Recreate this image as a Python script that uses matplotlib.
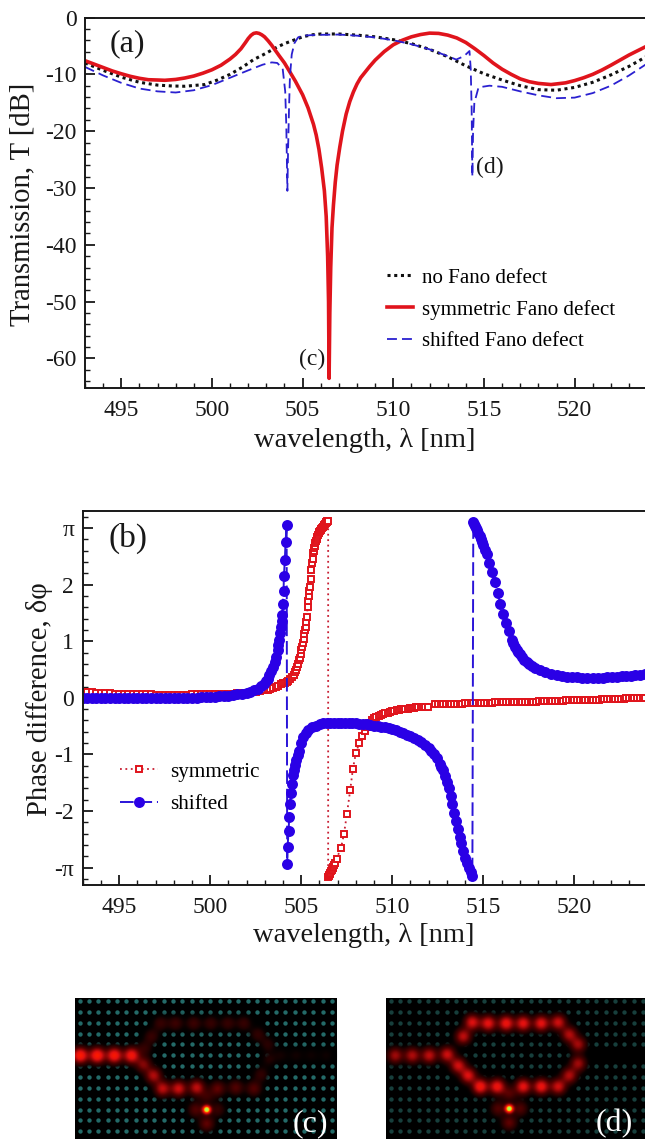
import numpy as np
import matplotlib
matplotlib.use("Agg")
import matplotlib.pyplot as plt
from matplotlib.colors import LinearSegmentedColormap
from matplotlib.ticker import MultipleLocator

plt.rcParams["font.family"] = ["Liberation Serif", "DejaVu Serif"]

W, H = 645., 1144.

##########################
### panel (a) curves   ###
##########################
none_x = [493,494,495,496,497,497.8,498.5,499.6,500.3,501,501.7,502.3,502.8,503.2,503.6,504,504.5,505,505.5,506,507,508,509,510,
          511,512,513,514,515,516,517,518,519,520,521,522,523,524]
none_y = [-8,-9.3,-10.5,-11.4,-11.9,-12.05,-12.1,-11.8,-11,-10,-8.7,-7.4,-6.6,-5.9,-5.2,-4.6,-4,-3.4,-3.05,-2.9,-2.9,-3.1,-3.4,-3.9,
          -4.6,-5.6,-6.9,-8.5,-9.9,-11,-12,-12.7,-12.8,-12.3,-11.4,-10.1,-8.6,-6.8]

sym_x = [493,493.5,494,494.5,495,495.5,496,496.5,497,497.4,498,498.5,499,499.5,500,500.5,501,501.3,501.6,501.85,502,502.15,502.3,
         502.45,502.6,502.75,502.9,503.1,503.3,503.5,503.7,504,504.3,504.6,505,505.3,505.6,505.75,505.9,506.05,506.2,506.3,
         506.38,506.43,506.46,506.5,506.55,506.62,506.7,506.8,506.9,507.05,507.2,507.4,507.6,507.8,508,508.2,508.35,508.7,509,
         509.5,510,510.5,511,511.5,512,512.5,513,513.5,514,514.5,515,515.5,516,516.5,517,517.5,518,518.7,519.5,520,520.5,521,
         521.5,522,522.5,523,523.5,524]
sym_y = [-7.6,-8.2,-8.8,-9.4,-9.9,-10.35,-10.7,-10.95,-11,-11.05,-10.9,-10.65,-10.3,-9.8,-9.2,-8.4,-7.3,-6.5,-5.5,-4.4,-3.7,-3.15,-2.8,
         -2.7,-2.8,-3.05,-3.4,-4.1,-4.9,-5.8,-6.7,-8,-9.6,-11.2,-13.6,-15.9,-18.8,-20.7,-23.2,-26.5,-30.5,-35,
         -42,-50,-63.5,-52,-44,-37,-33,-29,-26,-22.8,-20,-17,-14.8,-13.1,-11.7,-10.6,-10,-8.6,-7.5,
         -6,-4.8,-4,-3.4,-3,-2.75,-2.8,-3.1,-3.6,-4.4,-5.5,-6.7,-8,-9.1,-10,-10.8,-11.3,-11.6,-11.8,-11.5,-11.1,-10.6,-10,
         -9.25,-8.4,-7.5,-6.6,-5.8,-5]

shift_x = [493,494,495,496,497,498,499,500,501,502,502.8,503.3,503.6,503.9,504.04,504.1,504.16,504.2,504.25,504.3,504.4,504.55,
           504.75,505,505.5,506,507,508,509,510,511,512,513,513.47,513.9,514.2,514.27,514.32,514.36,514.4,514.47,514.7,
           515.3,516,517,518,519,520,521,522,523,524]
shift_y = [-8.7,-10.2,-11.5,-12.5,-13,-13.2,-12.8,-11.9,-10.6,-9.3,-8.3,-7.9,-8,-9,-13,-19,-30.5,-23,-16,-10.5,-6.5,-4.5,
           -3.5,-3.2,-3.1,-3.05,-3,-3.2,-3.5,-4,-4.7,-5.6,-6.8,-7.4,-6.8,-5.9,-9,-16,-28,-20,-15,-12.3,
           -12,-12.2,-13,-13.7,-14.2,-14.1,-13.3,-12,-10.2,-8.1]

##########################
### panel (b) markers  ###
##########################
phase_sym_x = [493,493.25,493.5,493.75,494,494.25,494.5,494.75,495,495.25,495.5,495.75,496,496.25,496.5,496.75,497,497.25,
    497.5,497.75,498,498.25,498.5,498.75,499,499.25,499.5,499.75,500,500.25,500.5,500.75,501,501.25,501.5,501.75,502,502.25,
    502.5,502.75,503,503.15,503.3,503.45,503.6,503.75,503.9,504,504.1,504.2,504.3,504.4,504.5,504.58,504.65,504.72,504.78,
    504.84,504.89,504.93,504.97,505.01,505.05,505.1,505.14,505.18,505.21,505.24,505.28,505.31,505.35,505.38,505.41,505.45,
    505.48,505.52,505.56,505.6,505.63,505.66,505.69,505.72,505.75,505.78,505.81,505.85,505.89,505.93,505.97,506,506.04,506.07,
    506.1,506.14,506.17,506.2,506.24,506.27,506.3,506.34,506.37,506.41,506.44,506.48,
    506.48,506.51,506.54,506.57,506.6,506.64,506.68,506.72,506.76,506.8,506.87,506.94,507.18,507.35,507.51,507.69,507.84,
    508,508.19,508.33,508.5,508.62,508.75,508.87,509,509.12,509.25,509.37,509.5,509.62,509.75,509.87,510,510.12,510.24,
    510.36,510.48,510.6,510.72,510.84,510.96,511.08,511.2,511.32,511.44,511.56,511.68,511.8,511.98,
    512.35,512.5,512.65,512.8,512.95,513.1,513.25,513.4,513.55,513.7,513.85,514,514.15,514.3,514.45,514.6,514.75,514.9,
    515.05,515.2,515.35,515.5,515.65,515.8,515.95,516.1,516.25,516.4,516.55,516.7,516.85,517,517.15,517.3,517.45,517.6,
    517.75,517.9,518.05,518.2,518.35,518.5,518.65,518.8,518.95,519.1,519.25,519.4,519.55,519.7,519.85,520,520.15,520.3,
    520.45,520.6,520.75,520.9,521.05,521.2,521.35,521.5,521.65,521.8,521.95,522.1,522.25,522.4,522.55,522.7,522.85,523,
    523.15,523.3,523.45,523.6,523.75,523.88]
phase_sym_y = [.11,.10,.10,.09,.09,.08,.08,.07,.07,.07,.06,.06,.06,.06,.06,.06,.05,.05,
    .05,.05,.05,.05,.05,.05,.06,.06,.06,.06,.06,.06,.06,.07,.07,.07,.08,.08,.09,.10,
    .11,.12,.13,.14,.16,.17,.19,.21,.24,.26,.27,.28,.30,.33,.37,.41,.45,.50,.55,
    .60,.66,.71,.77,.84,.90,.96,1.04,1.12,1.19,1.25,1.34,1.43,1.61,1.71,1.80,1.88,
    1.96,2.1,2.25,2.38,2.46,2.55,2.60,2.65,2.69,2.73,2.77,2.8,2.84,2.88,2.91,2.93,2.95,2.97,
    2.99,3.0,3.01,3.02,3.04,3.05,3.07,3.08,3.1,3.11,3.12,3.13,
    -3.17,-3.15,-3.13,-3.11,-3.09,-3.06,-3.04,-3.01,-2.99,-2.96,-2.91,-2.84,-2.66,-2.40,-2.05,-1.63,-1.25,
    -.98,-.79,-.68,-.58,-.52,-.45,-.39,-.36,-.34,-.32,-.30,-.28,-.27,-.26,-.25,-.24,-.23,-.21,
    -.21,-.20,-.20,-.19,-.19,-.18,-.18,-.18,-.17,-.17,-.17,-.17,-.16,-.16,
    -.11,-.11,-.11,-.11,-.105,-.105,-.10,-.10,-.10,-.10,-.10,-.095,-.095,-.095,-.09,-.09,-.09,-.09,
    -.085,-.085,-.085,-.085,-.08,-.08,-.08,-.08,-.08,-.075,-.075,-.075,-.075,-.07,-.07,-.07,-.07,-.065,
    -.065,-.065,-.06,-.06,-.06,-.055,-.055,-.055,-.05,-.05,-.05,-.05,-.045,-.045,-.045,-.04,-.04,-.04,
    -.04,-.035,-.035,-.03,-.03,-.03,-.03,-.025,-.025,-.025,-.02,-.02,-.02,-.015,-.015,-.015,-.01,-.01,
    -.01,-.005,-.005,0,0,0]

phase_shift_x = [493,493.25,493.5,493.75,494,494.25,494.5,494.75,495,495.25,495.5,495.75,496,496.25,496.5,496.75,497,497.25,
    497.5,497.75,498,498.25,498.5,498.75,499,499.25,499.5,499.75,500,500.25,500.5,500.75,501,501.25,501.5,501.75,502,502.2,
    502.4,502.6,502.8,502.95,503.05,503.15,503.25,503.35,503.45,503.55,503.62,503.7,503.75,503.8,503.85,503.88,503.92,503.96,503.98,504.03,
    504.05,504.1,504.14,504.2,
    504.23,504.25,504.31,504.34,504.4,504.43,504.49,504.56,504.6,504.65,504.72,504.8,504.89,505,505.11,505.25,505.4,505.6,
    505.8,506.03,506.2,506.4,506.6,506.8,507,507.2,507.4,507.6,507.8,508,508.2,508.4,508.6,508.8,509,509.2,509.4,509.6,
    509.8,510,510.2,510.4,510.6,510.8,511,511.2,511.4,511.6,511.8,512,512.15,512.3,512.45,512.6,512.7,512.8,512.9,513,
    513.1,513.2,513.3,513.4,513.5,513.6,513.7,513.8,513.9,514,514.1,514.2,514.3,514.4,
    514.45,514.5,514.55,514.6,514.65,514.73,514.8,514.87,514.93,515,515.1,515.19,515.33,515.48,515.64,515.79,515.93,516.08,
    516.23,516.4,516.56,516.65,516.75,516.85,516.93,517.02,517.12,517.25,517.38,517.5,517.65,517.85,518.11,518.4,518.7,519.03,519.3,519.6,519.85,
    520.13,520.4,520.7,521.04,521.3,521.55,521.8,522.05,522.33,522.6,522.85,523.1,523.35,523.6,523.88]
phase_shift_y = [0,0,0,0,0,0,0,0,0,0,0,0,0,0,0,0,0,0,
    0,0,0,0,0,0,.005,.005,.01,.01,.015,.02,.025,.03,.04,.05,.06,.075,.09,.11,
    .135,.165,.21,.25,.29,.34,.40,.47,.55,.64,.72,.84,.93,1.03,1.14,1.26,1.36,1.46,1.65,1.88,
    2.15,2.43,2.75,3.05,
    -2.93,-2.63,-2.35,-2.10,-1.87,-1.68,-1.52,-1.37,-1.28,-1.19,-1.09,-1.01,-.93,-.80,-.69,-.62,-.56,-.52,
    -.49,-.46,-.45,-.45,-.44,-.44,-.44,-.44,-.44,-.45,-.45,-.45,-.46,-.46,-.47,-.48,-.49,-.50,-.51,-.52,
    -.54,-.55,-.57,-.60,-.62,-.65,-.68,-.71,-.74,-.78,-.83,-.89,-.94,-1.0,-1.07,-1.16,-1.22,-1.28,-1.38,-1.48,
    -1.6,-1.74,-1.88,-2.03,-2.18,-2.32,-2.45,-2.57,-2.70,-2.82,-2.92,-3.0,-3.08,-3.14,
    3.11,3.07,3.03,3.0,2.96,2.91,2.85,2.8,2.75,2.70,2.62,2.54,2.39,2.22,2.04,1.85,1.66,1.48,
    1.32,1.18,1.02,.96,.90,.85,.81,.77,.72,.67,.63,.60,.56,.52,.49,.45,.42,.40,.38,.37,.36,
    .36,.35,.35,.35,.35,.35,.36,.36,.37,.38,.38,.39,.40,.41,.42]

#############################
### field maps (c) and (d) ###
#############################
# hot spots: x, y in px from panel corner, amplitude
spots_c = [(5,58,1),(22,58,1),(39,58,.95),(56,58,.9),(68,67,.45),(78,78,.6),(87,91,.65),(103,91,.7),(121,90,.65),
           (142,91,.35),(160,90,.3),(178,91,.3),(185,77,.18),(193,62,.12),(192,47,.15),(182,37,.18),(168,26,.2),
           (152,26,.2),(135,26,.2),(118,26,.22),(100,26,.22),(85,26,.2),(76,39,.2),(69,51,.18),
           (205,58,.09),(220,58,.09),(235,58,.08),(250,58,.08),(131,112,1.7),(131,126,.35),(131,99,.2),(120,112,.3),(142,112,.2)]
spots_d = [(9,58,.55),(26,58,.6),(43,58,.65),(61,57,.7),(72,68,.7),(82,78,.75),(94,89,.9),(111,89,.85),(137,89,.8),
           (155,89,.85),(172,89,.7),(183,78,.6),(192,66,.55),(192,47,.55),(183,37,.6),(172,25,.7),(155,26,.8),(137,26,.8),
           (120,26,.85),(102,26,.8),(86,25,.75),(77,39,.65),(123,111,1.7),(123,125,.35),(123,96,.3),(112,111,.3),(134,111,.3)]

########################
### Data presentation ###
########################
fig = plt.figure(figsize=(W/100, H/100), dpi=100)

def make_axes(x0, x1, y0, y1):
    return fig.add_axes([x0/W, 1-y1/H, (x1-x0)/W, (y1-y0)/H])

def style_axes(ax):
    for s in ax.spines.values():
        s.set_linewidth(1.4)
        s.set_color("#181818")
    ax.spines["right"].set_visible(False)
    ax.xaxis.set_major_locator(MultipleLocator(5))
    ax.xaxis.set_minor_locator(MultipleLocator(1))
    ax.tick_params(which="major", direction="in", length=7, width=1.3, labelsize=17, colors="#181818")
    ax.tick_params(which="minor", direction="in", length=3.3, width=1.0, colors="#181818")
    ax.tick_params(axis="x", which="major", pad=9)
    ax.tick_params(axis="y", which="major", pad=6.2)
    ax.set_xlim(493, 523.88)

ax1 = make_axes(85, 645, 17.5, 388)
ax1.plot(none_x, none_y, ls=(0, (1, 1.2)), lw=2.2, c="#101010", label="no Fano defect")
ax1.plot(sym_x, sym_y, ls="-", lw=2.6, c="#e0141c", label="symmetric Fano defect")
ax1.plot(shift_x, shift_y, ls=(0, (5.5, 2.8)), lw=1.3, c="#2a20d0", label="shifted Fano defect")
style_axes(ax1)
ax1.set_ylim(-65.2, 0)
ax1.yaxis.set_minor_locator(MultipleLocator(2))
ax1.set_yticks([0,-10,-20,-30,-40,-50,-60], ["0","-10","-20","-30","-40","-50","-60"])
ax1.legend(loc="lower left", bbox_to_anchor=(0.539, 0.099), frameon=False, fontsize=15.1, handlelength=1.24,
    handletextpad=0.43, labelspacing=0.57, borderpad=0, borderaxespad=0)

ax2 = make_axes(82.7, 645, 511, 884.7)
ax2.plot(phase_sym_x, phase_sym_y, ls=(0, (1, 2)), lw=1.3, c="#c81e32", marker="s", ms=4.4, mfc="white", mec="#e0141c",
    mew=1.4, label="symmetric")
ax2.plot(phase_shift_x, phase_shift_y, ls=(0, (7, 2.5)), lw=1.4, c="#2a14d8", marker="o", ms=7.9, mfc="#2a00e6", mec="#2a00e6",
    mew=0, label="shifted")
style_axes(ax2)
ax2.set_ylim(-3.30, 3.30)
ax2.yaxis.set_minor_locator(MultipleLocator(0.2))
ax2.set_yticks([-3,-2,-1,0,1,2,3], ["-π","-2","-1","0","1","2","π"])
ax2.legend(loc="lower left", bbox_to_anchor=(0.066, 0.188), frameon=False, fontsize=15.2, handlelength=1.8,
    handletextpad=0.57, labelspacing=0.62, borderpad=0, borderaxespad=0, numpoints=1)

# text placed in figure pixels
def put(x, y, s, size, color="#181818", **kw):
    fig.text(x/W, 1-y/H, s, fontsize=size, color=color, ha="center", va="center", **kw)

put(127.5, 44, "(a)", 23)
put(128.5, 538, "(b)", 24)
put(312.5, 359, "(c)", 17)
put(490, 167, "(d)", 17)
put(365, 441, "wavelength, λ [nm]", 20.5)
put(364, 935, "wavelength, λ [nm]", 20.5)
put(22, 204, "Transmission, T [dB]", 20.6, rotation=90)
put(40, 699, "Phase difference, δφ", 20.6, rotation=90)

cmap = LinearSegmentedColormap.from_list("field", [(0,"#000000"),(0.18,"#500000"),(0.45,"#e01010"),(0.6,"#ff1a00"),
    (0.8,"#ffd000"),(1,"#a0ff60")])

def field_panel(x0, x1, spots, dot_color, removed, label, lx):
    ax = make_axes(x0, x1, 997.5, 1139)
    w, h = x1-x0, 1139-997.5
    ax.set_facecolor("black")
    xx, yy = np.meshgrid(np.arange(0, w, 0.5), np.arange(0, h, 0.5))
    f = np.zeros_like(xx)
    for sx, sy, a in spots:
        sig = 2.8 if a > 1.2 else 5.2
        f += a*np.exp(-((xx-sx)**2+(yy-sy)**2)/(2*sig**2))
    col = np.arange(4.5, w, 9.35)
    row = np.arange(3.5, h, 10.85)
    px, py = np.meshgrid(col, row)
    keep = ~removed(px, py)
    ax.scatter(px[keep], py[keep], s=10, c=dot_color, lw=0, zorder=1)
    img = cmap(np.clip(f/1.7, 0, 1))
    img[..., 3] = np.clip(f/0.12, 0, 1)
    ax.imshow(img, extent=[0, w, h, 0], zorder=2, interpolation="bilinear", aspect="auto")
    ax.set_xlim(0, w)
    ax.set_ylim(h, 0)
    ax.set_xticks([])
    ax.set_yticks([])
    for s in ax.spines.values():
        s.set_visible(False)
    ax.text(lx, 126, label, color="white", fontsize=23, ha="center", va="center", zorder=3)

def ring_holes(px, py):
    guide = (np.abs(py-58) < 5) & ((px < 60) | (px > 195))
    top = (np.abs(py-26) < 5) & (px > 75) & (px < 185)
    bot = (np.abs(py-90) < 5) & (px > 75) & (px < 185)
    left = (px > 60) & (px < 85) & (py > 30) & (py < 90) & (np.abs((px-60)-np.abs(py-58)*0.6) < 6)
    right = (px > 170) & (px < 198) & (py > 30) & (py < 90) & (np.abs((198-px)-np.abs(py-58)*0.6) < 6)
    return guide | top | bot | left | right

field_panel(75, 337, spots_c, "#236a68", ring_holes, "(c)", 235)
field_panel(386, 645, spots_d, "#173f3c", ring_holes, "(d)", 228)

fig.savefig("out.png", dpi=100)
